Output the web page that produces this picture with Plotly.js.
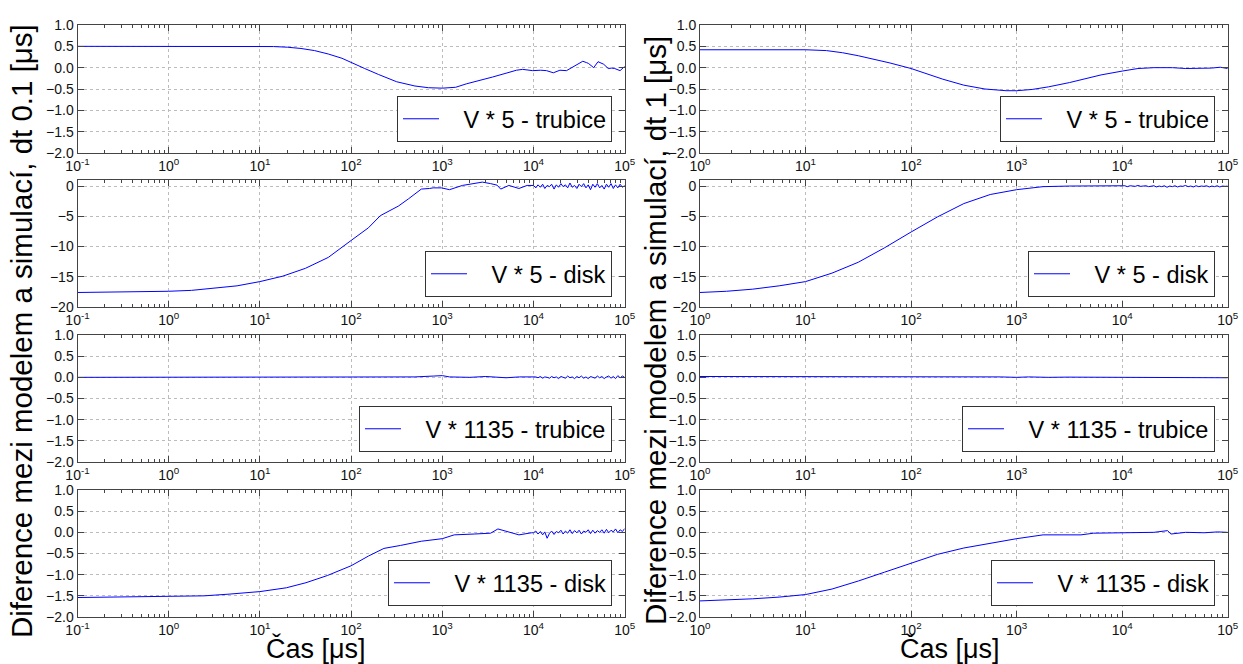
<!DOCTYPE html>
<html>
<head>
<meta charset="utf-8">
<script src="https://cdn.plot.ly/plotly-3.0.1.min.js"></script>
<style>html,body{margin:0;padding:0;background:#fff;}#chart{width:1243px;height:664px;}</style>
</head>
<body>
<div id="chart"></div>
<script>
// ---------- data (time in µs, difference values) ----------
const seriesNames = ["V * 5 - trubice", "V * 5 - disk", "V * 1135 - trubice", "V * 1135 - disk"];
const xTickValsL = [0.1, 1, 10, 100, 1000, 10000, 100000];
const xTickTextL = ["10<sup>-1</sup>", "10<sup>0</sup>", "10<sup>1</sup>", "10<sup>2</sup>", "10<sup>3</sup>", "10<sup>4</sup>", "10<sup>5</sup>"];
const xTickValsR = [1, 10, 100, 1000, 10000, 100000];
const xTickTextR = ["10<sup>0</sup>", "10<sup>1</sup>", "10<sup>2</sup>", "10<sup>3</sup>", "10<sup>4</sup>", "10<sup>5</sup>"];
const yTitleLeft = "Diference mezi modelem a simulací, dt 0.1 [μs]";
const yTitleRight = "Diference mezi modelem a simulací, dt 1 [μs]";
const xTitle = "Čas [μs]";

// shared time grid of the noisy tail (1e4 .. 1e5 µs)
const tailT = [10000,10600,11200,11900,12600,13300,14100,15000,15800,16800,17800,18800,20000,21100,22400,23700,25100,26600,28200,29900,31600,33500,35500,37600,39800,42200,44700,47300,50100,53100,56200,59600,63100,66800,70800,75000,79400,84100,89100,94400,100000];

// dt 0.1, V*5 trubice
const tL1 = [0.1,0.3,1,3,10,14.1,20,28.2,39.8,56.2,79.4,100,141,200,316,501,708,1000,1400,1830,2500,3550,5000,6500,7600,9800,12000,13900,16500,19500,23000,27500,31000,34700,38000,40000,45700,51000,58900,66000,72000,77600,89000,100000];
const vL1 = [0.5,0.5,0.5,0.5,0.50,0.495,0.48,0.45,0.40,0.32,0.22,0.12,-0.02,-0.16,-0.33,-0.43,-0.47,-0.48,-0.46,-0.38,-0.31,-0.22,-0.13,-0.06,-0.04,-0.07,-0.06,-0.07,-0.12,-0.06,-0.07,0.02,0.08,0.15,0.12,0.10,0.0,0.14,0.08,-0.02,-0.01,-0.02,-0.07,0.03];

// dt 1, V*5 trubice
const tR1 = [1,3.16,10,15.8,22.4,31.6,44.7,63.1,100,141,200,316,501,794,1000,1410,2000,3160,4470,6310,10000,14100,20000,30000,40000,50000,70000,85000,100000];
const vR1 = [0.42,0.42,0.42,0.40,0.35,0.28,0.20,0.11,-0.02,-0.14,-0.27,-0.41,-0.50,-0.54,-0.54,-0.51,-0.45,-0.35,-0.26,-0.17,-0.08,-0.02,0.0,0.0,-0.02,-0.02,-0.01,0.01,-0.02];

// dt 0.1, V*5 disk
const tL2 = [0.1,0.316,1,1.78,3.16,5.62,10,17.8,31.6,56.2,100,155,209,331,427,589,724,794,977,1200,1660,2240,2750,3390,3980,4370,5370,6920,8510];
const vL2 = [-17.6,-17.55,-17.4,-17.25,-16.9,-16.5,-15.8,-14.9,-13.6,-11.8,-9.0,-6.9,-4.9,-3.3,-2.1,-0.5,-0.4,-0.3,-0.3,-0.6,0.1,0.5,0.65,0.4,0.15,-0.5,0.1,-0.4,0.1];
const vL2tail = [0.1,-0.3,0.2,-0.2,0.3,-0.4,0.1,-0.1,0.3,-0.5,0.2,-0.2,0.4,-0.1,0.2,-0.3,0.5,-0.2,0.1,-0.4,0.3,-0.1,0.4,-0.3,0.2,-0.6,0.3,-0.2,0.4,-0.3,0.1,-0.5,0.3,-0.2,0.4,-0.4,0.2,-0.3,0.3,-0.2,0.1];

// dt 1, V*5 disk
const tR2 = [1,1.78,3.16,5.62,10,17.8,31.6,56.2,100,178,316,562,1000,1780,3160,5000];
const vR2 = [-17.6,-17.4,-17.05,-16.5,-15.8,-14.4,-12.6,-10.2,-7.6,-5.1,-2.9,-1.4,-0.6,-0.1,0.0,0.0];
const vR2tail = [0.0,0.05,-0.1,0.05,0.0,-0.05,0.1,-0.05,0.0,0.05,-0.1,0.0,0.05,-0.15,0.0,-0.1,0.05,-0.2,0.0,-0.1,0.05,-0.15,0.0,-0.05,0.1,-0.1,0.0,-0.15,0.05,-0.1,0.0,-0.05,0.05,-0.15,0.0,-0.1,0.05,-0.15,0.0,-0.05,0.0];

// dt 0.1, V*1135 trubice
const tL3 = [0.1,1,10,100,500,800,1000,1200,2000,3000,5000,7000];
const vL3 = [0.0,0.0,0.0,0.0,0.01,0.03,0.04,0.01,0.0,0.02,-0.01,0.01];
const vL3tail = [0.0,0.01,-0.01,0.02,-0.02,0.01,0.0,-0.02,0.02,-0.01,0.01,-0.03,0.02,0.0,-0.02,0.03,-0.01,0.01,-0.03,0.02,-0.01,0.03,-0.02,0.01,-0.03,0.02,0.0,-0.02,0.03,-0.01,0.02,-0.03,0.01,0.03,-0.02,0.02,-0.03,0.04,-0.01,0.03,0.0];

// dt 1, V*1135 trubice
const tR3 = [1,10,100,700,1000,1300,2000,3000,10000,30000,60000,100000];
const vR3 = [0.02,0.02,0.015,0.01,0.0,0.01,0.0,0.005,0.0,0.0,-0.005,-0.01];

// dt 0.1, V*1135 disk
const tL4 = [0.1,1,2.45,4.6,10,19.5,32,55,100,155,229,347,589,1000,1350,2240,3390,4070,5130,6920,9550];
const vL4 = [-1.54,-1.52,-1.50,-1.46,-1.40,-1.31,-1.19,-1.02,-0.79,-0.56,-0.38,-0.31,-0.21,-0.15,-0.06,-0.04,-0.02,0.08,0.02,-0.06,-0.01];
const vL4tail = [-0.01,0.03,-0.04,0.02,-0.06,0.01,-0.14,-0.02,0.03,-0.05,0.02,-0.01,0.05,-0.04,0.03,-0.02,0.06,-0.03,0.04,-0.01,0.05,-0.04,0.03,0.0,0.06,-0.03,0.05,-0.02,0.04,0.0,0.06,-0.02,0.07,-0.01,0.05,0.01,0.08,-0.01,0.06,0.02,0.09];

// dt 1, V*1135 disk
const tR4 = [1,1.78,3.16,5.62,10,17.8,31.6,56.2,100,178,316,562,1000,1780,3160,4070,5370,10000,20000,26900,29000,40000,60000,80000,100000];
const vR4 = [-1.62,-1.60,-1.57,-1.53,-1.47,-1.34,-1.15,-0.94,-0.73,-0.52,-0.37,-0.26,-0.15,-0.06,-0.05,-0.06,-0.02,-0.01,0.0,0.04,-0.04,0.0,-0.01,0.01,0.0];

// ---------- layout geometry ----------
const W = 1243, H = 664;
const colPx = [[77.5, 624.7], [700, 1227.7]];
const rowPx = [[25, 153], [180, 307], [335, 462], [490, 617]];
const legendPx = [ // [right, bottom]
  [[612, 142], [1215, 142]],
  [[612, 297], [1215, 297]],
  [[612, 452], [1215, 452]],
  [[612, 606], [1215, 606]]
];
const NB = '\u00a0\u00a0\u00a0';

const panels = [
  {t: tL1, v: vL1, name: seriesNames[0]},
  {t: tR1, v: vR1, name: seriesNames[0]},
  {t: tL2.concat(tailT), v: vL2.concat(vL2tail), name: seriesNames[1]},
  {t: tR2.concat(tailT), v: vR2.concat(vR2tail), name: seriesNames[1]},
  {t: tL3.concat(tailT), v: vL3.concat(vL3tail), name: seriesNames[2]},
  {t: tR3, v: vR3, name: seriesNames[2]},
  {t: tL4.concat(tailT), v: vL4.concat(vL4tail), name: seriesNames[3]},
  {t: tR4, v: vR4, name: seriesNames[3]}
];

const FONT = "Liberation Sans, Arial, sans-serif";
const AX = '#444';
const traces = [];
const layout = {
  width: W, height: H,
  margin: {l: 0, r: 0, t: 0, b: 0},
  paper_bgcolor: '#fff', plot_bgcolor: '#fff',
  font: {family: FONT, size: 14, color: '#111'},
  showlegend: true,
  annotations: []
};

panels.forEach((p, i) => {
  const row = Math.floor(i / 2), col = i % 2;
  const n = i + 1;
  const xa = n === 1 ? 'xaxis' : 'xaxis' + n;
  const ya = n === 1 ? 'yaxis' : 'yaxis' + n;
  const lg = n === 1 ? 'legend' : 'legend' + n;
  traces.push({
    type: 'scatter', mode: 'lines', x: p.t, y: p.v, name: NB + p.name,
    xaxis: 'x' + (n === 1 ? '' : n), yaxis: 'y' + (n === 1 ? '' : n),
    legend: lg,
    line: {color: '#0000ff', width: 1}
  });
  const c = colPx[col], r = rowPx[row];
  const isDisk5 = row === 1;
  layout[xa] = {
    type: 'log',
    domain: [c[0] / W, c[1] / W],
    range: col === 0 ? [-1, 5] : [0, 5],
    anchor: 'y' + (n === 1 ? '' : n),
    tickvals: col === 0 ? xTickValsL : xTickValsR,
    ticktext: col === 0 ? xTickTextL : xTickTextR,
    ticks: 'inside', ticklen: 6, tickcolor: AX, tickwidth: 1,
    showline: true, linecolor: AX, linewidth: 1, mirror: 'ticks',
    showgrid: true, gridcolor: '#bcbcbc', griddash: 'dot', gridwidth: 1,
    minor: {ticks: 'inside', ticklen: 3, tickcolor: AX, dtick: 'D1', showgrid: false},
    tickfont: {family: FONT, size: 14, color: '#111'},
    zeroline: false, fixedrange: true
  };
  layout[ya] = {
    domain: [(H - r[1]) / H, (H - r[0]) / H],
    range: isDisk5 ? [-20, 1] : [-2, 1],
    anchor: 'x' + (n === 1 ? '' : n),
    tickmode: 'linear', tick0: 0, dtick: isDisk5 ? 5 : 0.5,
    tickformat: isDisk5 ? 'd' : '.1f',
    ticks: 'inside', ticklen: 6, tickcolor: AX, tickwidth: 1,
    showline: true, linecolor: AX, linewidth: 1, mirror: 'ticks',
    showgrid: true, gridcolor: '#bcbcbc', griddash: 'dot', gridwidth: 1,
    tickfont: {family: FONT, size: 14, color: '#111'},
    zeroline: false, fixedrange: true
  };
  const lp = legendPx[row][col];
  layout[lg] = {
    x: lp[0] / W, xanchor: 'right',
    y: (H - lp[1]) / H, yanchor: 'bottom',
    bgcolor: '#fff', bordercolor: '#333', borderwidth: 1,
    font: {family: FONT, size: 23.5, color: '#000'},
    itemwidth: 36
  };
});

// axis titles (shared per column)
const TFY = {family: FONT, size: 29.5, color: '#000'};
const TFX = {family: FONT, size: 27, color: '#000'};
layout.annotations.push(
  {text: yTitleLeft, xref: 'paper', yref: 'paper', x: 21 / W, y: (H - 331) / H, xanchor: 'center', yanchor: 'middle', textangle: -90, showarrow: false, font: TFY},
  {text: yTitleRight, xref: 'paper', yref: 'paper', x: 655 / W, y: (H - 331) / H, xanchor: 'center', yanchor: 'middle', textangle: -90, showarrow: false, font: TFY},
  {text: xTitle, xref: 'paper', yref: 'paper', x: 316 / W, y: (H - 648) / H, xanchor: 'center', yanchor: 'middle', showarrow: false, font: TFX},
  {text: xTitle, xref: 'paper', yref: 'paper', x: 950 / W, y: (H - 648) / H, xanchor: 'center', yanchor: 'middle', showarrow: false, font: TFX}
);

Plotly.newPlot('chart', traces, layout, {displayModeBar: false, staticPlot: true});
</script>
</body>
</html>
